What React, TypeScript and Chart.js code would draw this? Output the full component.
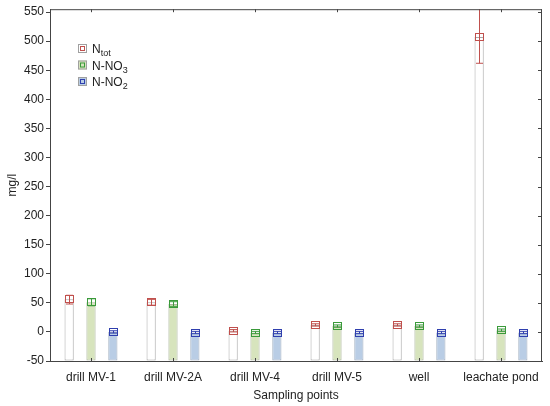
import React, { useEffect, useRef } from "react";
import { Chart, registerables } from "chart.js";

Chart.register(...registerables);

const categories = ["drill MV-1", "drill MV-2A", "drill MV-4", "drill MV-5", "well", "leachate pond"];
const nTot = [56, 51, 2, 12, 12, 507];
const nTotLow = [48, 46, 0, 10, 10, 462];
const nTotHigh = [63, 56, 4, 14, 14, 560];
const no3 = [51, 48, -1, 10, 10, 3];
const no3Low = [45, 44, -3, 8, 8, 1];
const no3High = [57, 52, 1, 12, 12, 5];
const no2 = [0, -1, -1, -1, -1, -1];
const no2Low = [-2, -3, -3, -3, -3, -3];
const no2High = [2, 1, 1, 1, 1, 1];
const yTicks = [-50, 0, 50, 100, 150, 200, 250, 300, 350, 400, 450, 500, 550];

const FONT = 'Arial, "Liberation Sans", sans-serif';
const AXIS = "#444444";
const seriesNames = [["N", "tot"], ["N-NO", "3"], ["N-NO", "2"]];
const barFill = ["#ffffff", "#d7e4bd", "#b9cde5"];
const barBorder = ["#a8a8a8", "#aab59a", "#9fadbf"];
const markColor = ["#c0504d", "#3a9a3a", "#2f3fae"];
const values = [nTot, no3, no2];
const lows = [nTotLow, no3Low, no2Low];
const highs = [nTotHigh, no3High, no2High];

const overlay = {
  id: "overlay",
  afterDatasetsDraw(chart: any) {
    const ctx = chart.ctx;
    const area = chart.chartArea;
    const ys = chart.scales.y;
    const xs = chart.scales.x;
    ctx.save();
    ctx.beginPath();
    ctx.rect(area.left, area.top, area.right - area.left, area.bottom - area.top);
    ctx.clip();
    for (let i = 0; i < 3; i++) {
      const meta = chart.getDatasetMeta(i);
      ctx.strokeStyle = markColor[i];
      ctx.lineWidth = 1;
      meta.data.forEach((el: any, j: number) => {
        const x = Math.round(el.x) + 0.5;
        const yv = ys.getPixelForValue(values[i][j]);
        const yl = ys.getPixelForValue(lows[i][j]);
        const yh = ys.getPixelForValue(highs[i][j]);
        ctx.beginPath();
        ctx.moveTo(x, yh);
        ctx.lineTo(x, yl);
        ctx.moveTo(x - 3.5, yh);
        ctx.lineTo(x + 3.5, yh);
        ctx.moveTo(x - 3.5, yl);
        ctx.lineTo(x + 3.5, yl);
        ctx.stroke();
        ctx.strokeRect(x - 4, Math.round(yv) - 3.5, 8, 7);
      });
    }
    ctx.restore();

    // frame and ticks
    ctx.save();
    ctx.strokeStyle = AXIS;
    ctx.lineWidth = 1;
    ctx.beginPath();
    ctx.moveTo(area.left, area.top + 0.5);
    ctx.lineTo(area.right, area.top + 0.5);
    ctx.moveTo(area.right - 0.5, area.top);
    ctx.lineTo(area.right - 0.5, area.bottom);
    yTicks.forEach((t) => {
      const y = Math.round(ys.getPixelForValue(t)) + 0.5;
      ctx.moveTo(area.right, y);
      ctx.lineTo(area.right - 4, y);
    });
    categories.forEach((_, j) => {
      const x = Math.round(xs.getPixelForValue(j)) + 0.5;
      ctx.moveTo(x, area.top);
      ctx.lineTo(x, area.top + 3);
      ctx.moveTo(x, area.bottom);
      ctx.lineTo(x, area.bottom - 3);
    });
    ctx.stroke();
    ctx.restore();

    // legend
    ctx.save();
    const lx = 78;
    const ly = [44, 60.5, 77];
    for (let i = 0; i < 3; i++) {
      const y = ly[i];
      ctx.fillStyle = barFill[i];
      ctx.fillRect(lx, y, 9, 9);
      ctx.strokeStyle = "#a0a0a0";
      ctx.strokeRect(lx + 0.5, y + 0.5, 8, 8);
      ctx.strokeStyle = markColor[i];
      ctx.strokeRect(lx + 2.5, y + 2.5, 4, 4);
      ctx.fillStyle = "#222";
      ctx.textBaseline = "alphabetic";
      ctx.textAlign = "left";
      ctx.font = `12px ${FONT}`;
      const base = y + 9;
      ctx.fillText(seriesNames[i][0], 92, base);
      const w = ctx.measureText(seriesNames[i][0]).width;
      ctx.font = `9px ${FONT}`;
      ctx.fillText(seriesNames[i][1], 92 + w, base + 3);
    }
    ctx.restore();
  },
};

export default function App() {
  const ref = useRef<HTMLCanvasElement | null>(null);
  useEffect(() => {
    document.body.style.margin = "0";
    const canvas = ref.current;
    if (!canvas) return;
    const chart = new Chart(canvas, {
      type: "bar",
      data: {
        labels: categories,
        datasets: [0, 1, 2].map((i) => ({
          label: seriesNames[i].join(""),
          data: values[i],
          base: -50,
          backgroundColor: barFill[i],
          borderColor: barBorder[i],
          borderWidth: 1,
          borderSkipped: false,
          categoryPercentage: 0.8,
          barPercentage: 0.42,
        })) as any,
      },
      options: {
        animation: false,
        responsive: false,
        devicePixelRatio: 1,
        layout: { padding: { top: 7, right: 8, left: 0, bottom: 0 } },
        plugins: { legend: { display: false }, tooltip: { enabled: false } },
        scales: {
          x: {
            grid: { display: false },
            border: { display: true, color: AXIS },
            ticks: { color: "#222", font: { family: FONT, size: 12 }, padding: 1, maxRotation: 0, autoSkip: false },
            title: { display: true, text: "Sampling points", color: "#222", font: { family: FONT, size: 12 }, padding: { top: 4, bottom: 3 } },
            afterFit: (s: any) => { s.height = 45; },
          },
          y: {
            min: -50,
            max: 555,
            grid: { display: true, drawOnChartArea: false, drawTicks: true, tickLength: 4, color: AXIS },
            border: { display: true, color: AXIS },
            ticks: { color: "#222", font: { family: FONT, size: 12 }, padding: 2 },
            afterBuildTicks: (s: any) => { s.ticks = yTicks.map((v) => ({ value: v })); },
            title: { display: true, text: "mg/l", color: "#222", font: { family: FONT, size: 12 }, padding: { top: 5, bottom: 0 } },
            afterFit: (s: any) => { s.width = 50; },
          },
        },
      },
      plugins: [overlay],
    });
    return () => chart.destroy();
  }, []);
  return (
    <div style={{ width: 550, height: 406 }}>
      <canvas ref={ref} width={550} height={406} style={{ width: 550, height: 406, display: "block" }} />
    </div>
  );
}
